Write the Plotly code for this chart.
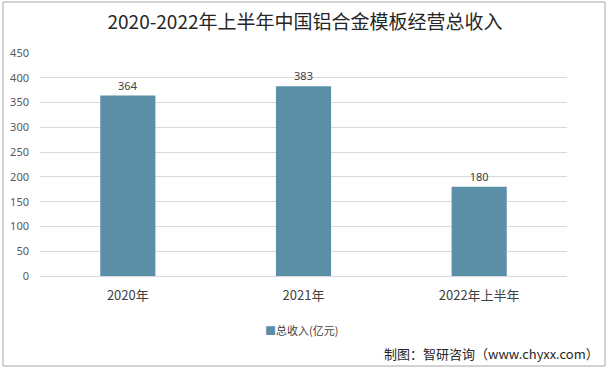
import plotly.graph_objects as go

categories = ["2020年", "2021年", "2022年上半年"]
values = [364, 383, 180]
series_name = "总收入(亿元)"
y_ticks = [0, 50, 100, 150, 200, 250, 300, 350, 400, 450]
title_text = "2020-2022年上半年中国铝合金模板经营总收入"
source_text = "制图：智研咨询（www.chyxx.com）"

W, H = 610, 370
L, R, T, B = 40, 43, 53, 94
pw, ph = W - L - R, H - T - B

def px(x):
    return (x - L) / pw

def py(y):
    return (H - B - y) / ph

bar_color = "#5B8FA8"
font_cjk = "Microsoft YaHei, Noto Sans CJK SC, sans-serif"

fig = go.Figure()
fig.add_trace(go.Bar(
    x=categories, y=values, name=series_name,
    marker=dict(color=bar_color, line=dict(width=0)),
    width=0.314,
    text=[str(v) for v in values], textposition="outside",
    textfont=dict(size=11, color="#404040", family="Noto Sans, sans-serif"),
    cliponaxis=False, showlegend=False,
))

fig.update_layout(
    width=W, height=H,
    margin=dict(l=L, r=R, t=T, b=B, autoexpand=False),
    paper_bgcolor="white", plot_bgcolor="white",
    title=dict(text=title_text, x=0.5, xanchor="center", y=1 - 22 / H, yanchor="middle",
               font=dict(size=19, color="#262626", family="Noto Sans CJK SC, sans-serif")),
    showlegend=False,
    xaxis=dict(showgrid=False, showline=False, ticks="", automargin=False,
               ticklabelstandoff=10,
               tickfont=dict(size=13, color="#404040", family=font_cjk)),
    yaxis=dict(range=[0, 450], tickvals=y_ticks, showgrid=True, gridcolor="#D9D9D9",
               gridwidth=1, zeroline=True, zerolinecolor="#D9D9D9", zerolinewidth=1,
               showline=False, ticks="", ticklabelstandoff=10, automargin=False,
               tickfont=dict(size=11, color="#595959", family="Noto Sans, sans-serif")),
    shapes=[dict(type="rect", xref="paper", yref="paper",
                 x0=px(3), x1=px(605), y0=py(366), y1=py(2),
                 line=dict(color="#A6A6A6", width=1), fillcolor="rgba(0,0,0,0)", layer="above")],
    annotations=[
        dict(text=f"<span style='color:{bar_color}'>■</span>{series_name}",
             xref="paper", yref="paper", x=px(263), y=py(330),
             xanchor="left", yanchor="middle", showarrow=False,
             font=dict(size=11, color="#404040", family=font_cjk)),
        dict(text=source_text, xref="paper", yref="paper", x=px(601), y=py(353),
             xanchor="right", yanchor="middle", showarrow=False,
             font=dict(size=13, color="#262626", family=font_cjk)),
    ],
)

fig.write_html("out.html", config={"displayModeBar": False},
               post_script="document.body.style.margin='0';document.body.style.overflow='hidden';")
